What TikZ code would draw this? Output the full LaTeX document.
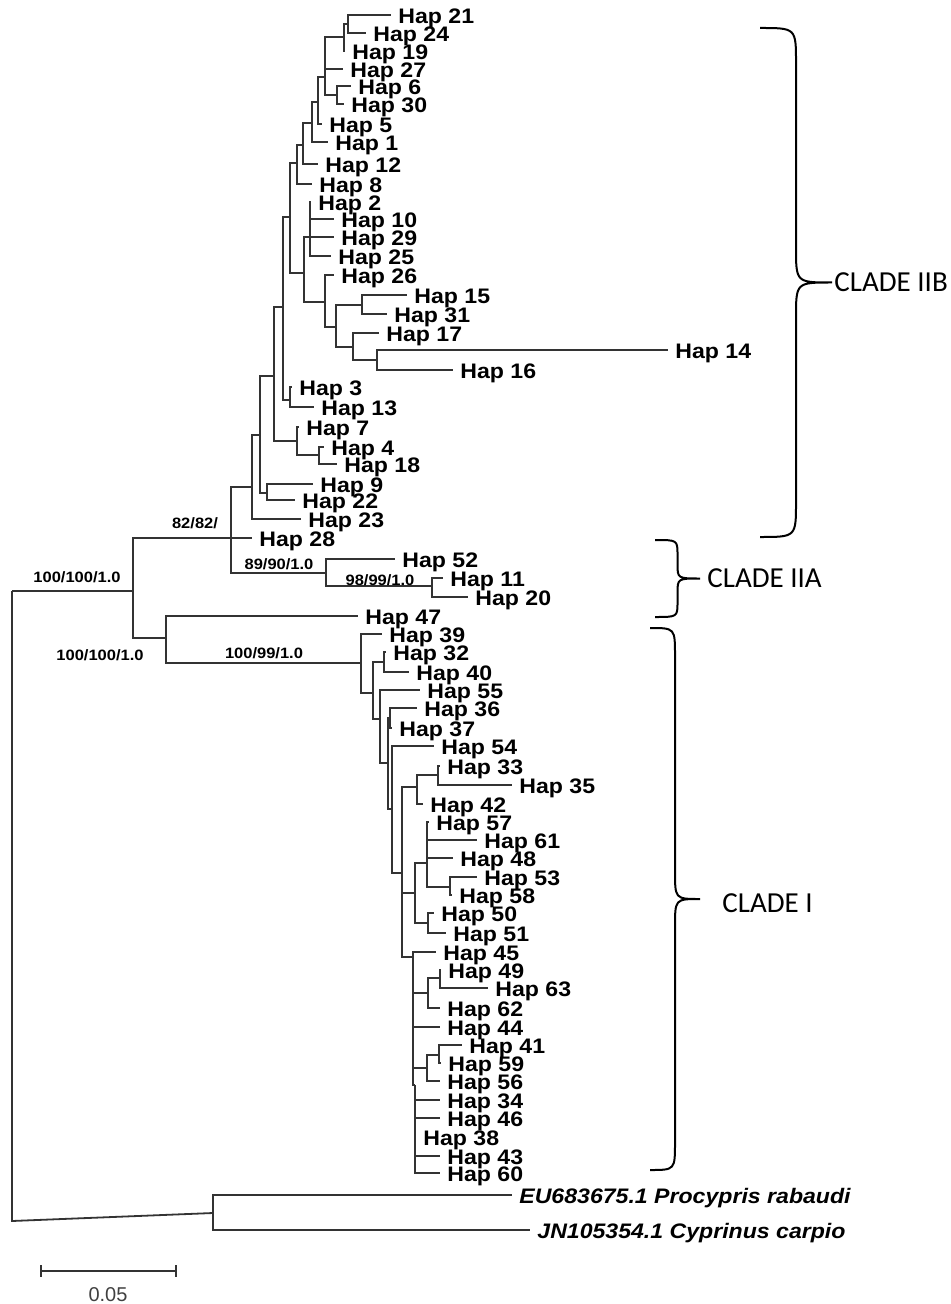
\documentclass[tikz,border=0pt]{standalone}
\usepackage{fontspec}
\setmainfont{Liberation Sans}
\newfontfamily\hapfont[FakeStretch=1.1]{Liberation Sans}
\newfontfamily\cladefont{Carlito}
\usetikzlibrary{calc}

% brace: x, top y, bottom y, width, curl
\newcommand\clbrace[5]{%
  \draw[brc] (#1,#2) .. controls ({#1+0.5*#4},#2) .. ({#1+0.5*#4},{#2+#5})
    -- ({#1+0.5*#4},{(#2+#3)/2-#5}) .. controls ({#1+0.5*#4},{(#2+#3)/2}) .. ({#1+#4},{(#2+#3)/2})
    .. controls ({#1+0.5*#4},{(#2+#3)/2}) .. ({#1+0.5*#4},{(#2+#3)/2+#5})
    -- ({#1+0.5*#4},{#3-#5}) .. controls ({#1+0.5*#4},#3) .. (#1,#3);}

\begin{document}
\begin{tikzpicture}[
  x=0.5pt, y=-0.5pt,
  branch/.style={line width=0.9pt, draw=black!80},
  hap/.style={anchor=west, inner sep=0pt, xshift=3.5pt, yshift=-1.75pt,
              font=\hapfont\bfseries\fontsize{10.5}{12}\selectfont},
  outg/.style={hap, font=\hapfont\bfseries\itshape\fontsize{10.5}{12}\selectfont},
  boot/.style={inner sep=0pt, font=\hapfont\bfseries\fontsize{7.5}{9}\selectfont},
  clade/.style={anchor=west, inner sep=0pt, font=\cladefont\fontsize{14.5}{17}\selectfont},
  brc/.style={line width=1pt, draw=black}
]
  \useasboundingbox (0,0) rectangle (950,1304);

  % internal nodes of the tree
  \foreach \n/\x/\y in {root/12/591, n133/133/591, n231/231/538, n252/252/487,
      n260/260/435, n267/267/493, n274/274/376, n282/283/307, n290/290/217,
      n291/290/400, n297b/297/163, n303/303/145, n312/312/123, n318/318/102,
      n325b/325/77, n344/344/37, n348/348/24, n337/337/95, n304/304/273,
      n310/310/237, n325/325/302, n336/336/327, n362/362/305, n353/353/347,
      n377/377/360, n297/297/441, n319/319/455, n326/326/573, n432/432/586,
      n166/166/638, n361/361/663, n373/373/693, n384/384/662, n380/380/719,
      n388/388/763, n390/390/718, n392/392/809, n402/402/873, n417/417/787,
      n438/438/775, n415/415/893, n427/427/863, n450/450/887, n428/428/923,
      n413/413/957, n428b/428/993, n440/440/978, n427c/427/1068,
      n439/439/1055, n415b/415/1085, n213/213/1213, rb/12/1221}
    \coordinate (\n) at (\x,\y);

  % haplotype tips
  \foreach \h/\x/\y in {21/391/15, 24/366/33, 19/345/51, 27/343/69, 6/351/86,
      30/344/104, 5/322/124, 1/328/142, 12/318/164, 8/312/184, 2/311/202,
      10/334/219, 29/334/237, 25/331/256, 26/334/275, 15/407/295, 31/387/314,
      17/379/333, 14/668/350, 16/453/370, 3/292/387, 13/314/407, 7/299/427,
      4/324/447, 18/337/464, 9/313/484, 22/295/500, 23/301/519, 28/252/538,
      52/395/559, 11/443/578, 20/468/597, 47/358/616, 39/382/634, 32/386/652,
      40/409/672, 55/420/690, 36/417/708, 37/392/728, 54/434/746, 33/440/766,
      35/512/785, 42/423/804, 57/429/822, 61/477/840, 48/453/858, 53/477/877,
      58/452/895, 50/434/913, 51/446/933, 45/436/952, 49/441/970, 63/488/988,
      62/440/1008, 44/440/1027, 41/462/1045, 59/441/1063, 56/440/1081,
      34/440/1100, 46/440/1118, 38/416/1137, 43/440/1156, 60/440/1173}
  {
    \coordinate (t\h) at (\x,\y);
    \node[hap] (h\h) at (t\h) {Hap \h};
  }
  \coordinate (teu) at (512,1195);
  \coordinate (tjn) at (530,1230);
  \node[outg] (heu) at (teu) {EU683675.1 Procypris rabaudi};
  \node[outg] (hjn) at (tjn) {JN105354.1 Cyprinus carpio};

  % branches
  \foreach \p/\c in {root/n133, n133/n231, n133/n166,
      n231/n252, n231/t28, n231/n326, n252/n260, n252/t23,
      n260/n274, n260/n267, n267/t9, n267/t22, n274/n282, n274/n297,
      n297/t7, n297/n319, n319/t4, n319/t18, n282/n290, n282/n291,
      n291/t3, n291/t13, n290/n297b, n290/n304, n297b/n303, n297b/t8,
      n303/n312, n303/t12, n312/n318, n312/t1, n318/n325b, n318/t5,
      n325b/n344, n325b/t27, n325b/n337, n344/n348, n344/t19,
      n348/t21, n348/t24, n337/t6, n337/t30, n304/n310, n304/n325,
      n310/t2, n310/t10, n310/t29, n310/t25, n325/t26, n325/n336,
      n336/n362, n336/n353, n362/t15, n362/t31, n353/t17, n353/n377,
      n377/t14, n377/t16, n326/t52, n326/n432, n432/t11, n432/t20,
      n166/t47, n166/n361, n361/t39, n361/n373, n373/n384, n373/n380,
      n384/t32, n384/t40, n380/t55, n380/n388, n388/n390, n388/n392,
      n390/t36, n390/t37, n392/t54, n392/n402,
      n402/n417, n402/n415, n402/n413, n417/n438, n417/t42,
      n438/t33, n438/t35, n415/n427, n415/n428,
      n427/t57, n427/t61, n427/t48, n427/n450, n450/t53, n450/t58,
      n428/t50, n428/t51,
      n413/t45, n413/n428b, n413/t44, n413/n427c, n413/n415b,
      n428b/n440, n428b/t62, n440/t49, n440/t63,
      n427c/n439, n427c/t56, n439/t41, n439/t59,
      n415b/t34, n415b/t46, n415b/t38, n415b/t43, n415b/t60,
      n213/teu, n213/tjn}
    \draw[branch] (\p) |- (\c);
  \draw[branch] (root) -- (rb) -- (n213);

  % support values
  \node[boot] (b1) at (77,577)  {100/100/1.0};
  \node[boot] (b2) at (195,523) {82/82/};
  \node[boot] (b3) at (279,564) {89/90/1.0};
  \node[boot] (b4) at (380,580) {98/99/1.0};
  \node[boot] (b5) at (100,655) {100/100/1.0};
  \node[boot] (b6) at (264,653) {100/99/1.0};

  % clades
  \clbrace{760}{28}{537}{72}{35}
  \clbrace{655}{540}{617}{45}{15}
  \clbrace{650}{628}{1170}{50}{28}
  \node[clade] (c2b) at (834,282) {CLADE IIB};
  \node[clade] (c2a) at (707,578) {CLADE IIA};
  \node[clade] (c1)  at (722,903) {CLADE I};

  % scale bar
  \coordinate (sbl) at (41,1271);
  \coordinate (sbr) at (176,1271);
  \draw[branch] (sbl) -- (sbr);
  \draw[branch] (41,1265) -- (41,1277) (176,1265) -- (176,1277);
  \node[inner sep=0pt, text=black!75, font=\fontsize{10}{12}\selectfont] (sbt) at (108,1295) {0.05};
\end{tikzpicture}
\end{document}
